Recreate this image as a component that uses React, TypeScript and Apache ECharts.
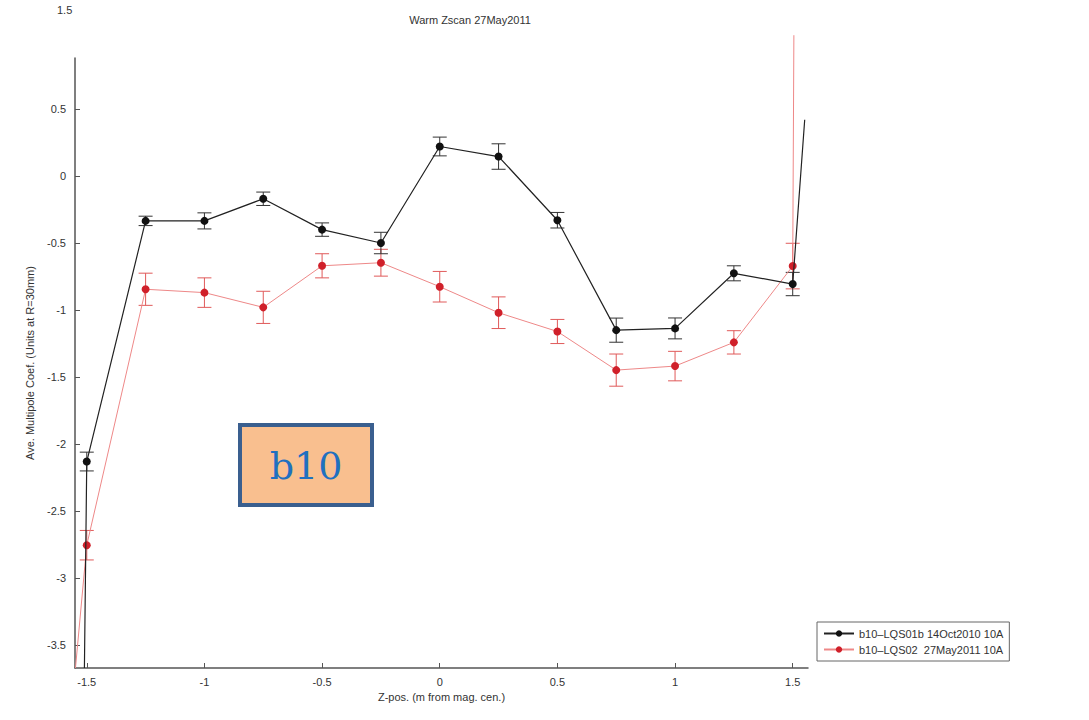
import React, { useEffect, useRef } from "react";
import * as echarts from "echarts";

// Z positions (m from magnet centre)
const zPos = [-1.5, -1.25, -1.0, -0.75, -0.5, -0.25, 0, 0.25, 0.5, 0.75, 1.0, 1.25, 1.5];
// b10-LQS01b 14Oct2010 10A
const blackMean = [-2.13, -0.335, -0.335, -0.17, -0.40, -0.50, 0.22, 0.145, -0.33, -1.15, -1.137, -0.726, -0.806];
const blackErr = [0.07, 0.035, 0.06, 0.05, 0.05, 0.08, 0.07, 0.095, 0.058, 0.09, 0.078, 0.056, 0.087];
// b10-LQS02 27May2011 10A
const redMean = [-2.754, -0.845, -0.87, -0.98, -0.67, -0.647, -0.826, -1.02, -1.16, -1.448, -1.418, -1.241, -0.672];
const redErr = [0.11, 0.12, 0.11, 0.12, 0.09, 0.10, 0.114, 0.118, 0.09, 0.12, 0.11, 0.087, 0.17];
// end segments running off the plotted range
const blackTailStart: [number, number] = [-1.51, -3.67];
const blackTailEnd: [number, number] = [1.551, 0.42];
const redTailStart: [number, number] = [-1.548, -3.67];
const redTailEnd: [number, number] = [1.505, 1.05];

const xTicks = [-1.5, -1, -0.5, 0, 0.5, 1, 1.5];
const yTicks = [-3.5, -3, -2.5, -2, -1.5, -1, -0.5, 0, 0.5];

const blackName = "b10\u2013LQS01b 14Oct2010 10A";
const redName = "b10\u2013LQS02  27May2011 10A";

function lineData(means: number[], start: [number, number], end: [number, number]) {
  const d: any[] = [{ value: start, symbol: "none" }];
  zPos.forEach((z, i) => d.push({ value: [z, means[i]] }));
  d.push({ value: end, symbol: "none" });
  return d;
}

function errSeries(means: number[], errs: number[], color: string) {
  return {
    type: "custom",
    silent: true,
    clip: false,
    z: 1,
    data: zPos.map((z, i) => [z, means[i] - errs[i], means[i] + errs[i]]),
    renderItem: (params: any, api: any) => {
      const x = api.value(0);
      const lo = api.coord([x, api.value(1)]);
      const hi = api.coord([x, api.value(2)]);
      const hw = 7;
      const style = { stroke: color, lineWidth: 1 };
      return {
        type: "group",
        children: [
          { type: "line", shape: { x1: lo[0], y1: lo[1], x2: hi[0], y2: hi[1] }, style },
          { type: "line", shape: { x1: lo[0] - hw, y1: lo[1], x2: lo[0] + hw, y2: lo[1] }, style },
          { type: "line", shape: { x1: hi[0] - hw, y1: hi[1], x2: hi[0] + hw, y2: hi[1] }, style },
        ],
      };
    },
  };
}

export default function App() {
  const ref = useRef<HTMLDivElement>(null);
  useEffect(() => {
    if (!ref.current) return;
    const chart = echarts.init(ref.current, null, { renderer: "svg" });
    const font = "Liberation Sans, Arial, sans-serif";
    chart.setOption({
      animation: false,
      backgroundColor: "#ffffff",
      title: {
        text: "Warm Zscan 27May2011",
        left: 465,
        top: 9,
        textAlign: "center",
        textStyle: { fontFamily: font, fontSize: 11, fontWeight: "normal", color: "#333" },
      },
      grid: { left: 75, right: 281, top: 58, bottom: 52 },
      legend: {
        orient: "vertical",
        left: 817,
        top: 622,
        data: [blackName, redName],
        borderColor: "#666",
        borderWidth: 1,
        padding: [6, 6, 6, 6],
        itemGap: 5,
        itemWidth: 30,
        itemHeight: 8,
        textStyle: { fontFamily: font, fontSize: 11, color: "#333" },
      },
      xAxis: {
        type: "value",
        min: -1.55,
        max: 1.565,
        name: "Z-pos. (m from mag. cen.)",
        nameLocation: "middle",
        nameGap: 23,
        nameTextStyle: { fontFamily: font, fontSize: 11, color: "#333" },
        axisLine: { onZero: false, lineStyle: { color: "#555", width: 1.5 } },
        axisTick: { inside: true, length: 5, customValues: xTicks, lineStyle: { color: "#555" } },
        axisLabel: {
          customValues: xTicks,
          fontFamily: font,
          fontSize: 11,
          color: "#333",
          margin: 8,
          formatter: (v: number) => String(v),
        },
        splitLine: { show: false },
      },
      yAxis: {
        type: "value",
        min: -3.67,
        max: 0.88,
        name: "Ave. Multipole Coef. (Units at R=30mm)",
        nameLocation: "middle",
        nameGap: 40,
        nameTextStyle: { fontFamily: font, fontSize: 11, color: "#333" },
        axisLine: { show: true, onZero: false, lineStyle: { color: "#555", width: 1.5 } },
        axisTick: { show: true, inside: true, length: 5, customValues: yTicks, lineStyle: { color: "#555" } },
        axisLabel: {
          customValues: yTicks,
          fontFamily: font,
          fontSize: 11,
          color: "#333",
          margin: 9,
          formatter: (v: number) => String(v),
        },
        splitLine: { show: false },
      },
      graphic: [
        {
          type: "text",
          left: 57,
          top: 4,
          style: { text: "1.5", fontFamily: font, fontSize: 11, fill: "#333" },
        },
        {
          type: "rect",
          shape: { x: 240, y: 425, width: 132, height: 80 },
          style: { fill: "#f9bf8f", stroke: "#3a5f8f", lineWidth: 4 },
          z: 100,
        },
        {
          type: "text",
          x: 306,
          y: 466,
          style: {
            text: "b10",
            fontFamily: "DejaVu Serif, Liberation Serif, serif",
            fontSize: 38,
            fill: "#1f70c0",
            align: "center",
            verticalAlign: "middle",
          },
          z: 101,
        },
      ],
      series: [
        errSeries(redMean, redErr, "#e05a5a"),
        errSeries(blackMean, blackErr, "#333333"),
        {
          name: redName,
          type: "line",
          clip: false,
          z: 2,
          data: lineData(redMean, redTailStart, redTailEnd),
          symbol: "circle",
          symbolSize: 8,
          lineStyle: { color: "#ee8888", width: 1 },
          itemStyle: { color: "#d0202a" },
        },
        {
          name: blackName,
          type: "line",
          clip: true,
          z: 3,
          data: lineData(blackMean, blackTailStart, blackTailEnd),
          symbol: "circle",
          symbolSize: 8,
          lineStyle: { color: "#222222", width: 1.2 },
          itemStyle: { color: "#111111" },
        },
      ],
    });
    return () => chart.dispose();
  }, []);
  return <div ref={ref} style={{ position: "fixed", left: 0, top: 0, width: 1089, height: 720 }} />;
}
